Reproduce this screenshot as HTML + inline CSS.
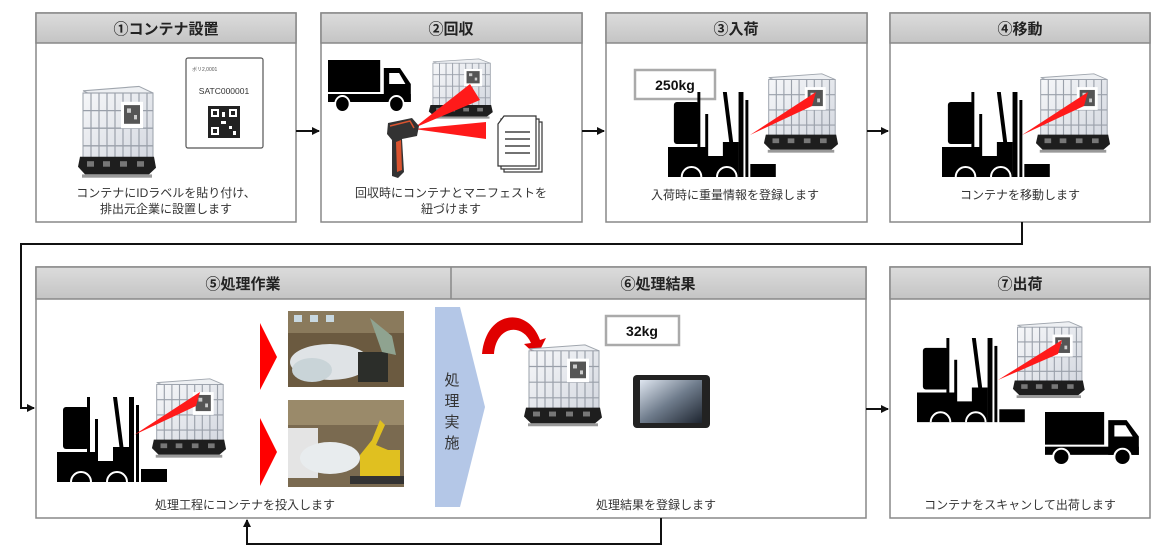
<!DOCTYPE html>
<html><head><meta charset="utf-8">
<style>
html,body{margin:0;padding:0;background:#fff;}
svg{display:block;}
text{font-family:"Liberation Sans","Noto Sans CJK JP",sans-serif;}
.h{font-size:15px;font-weight:bold;fill:#222;text-anchor:middle;}
.t{font-size:12px;fill:#333;text-anchor:middle;}
</style></head><body>
<svg width="1163" height="559" viewBox="0 0 1163 559" xmlns="http://www.w3.org/2000/svg">
<defs>
<linearGradient id="hg" x1="0" y1="0" x2="0" y2="1"><stop offset="0" stop-color="#dcdcdc"/><stop offset="1" stop-color="#c4c4c4"/></linearGradient>
<linearGradient id="cg" x1="0" y1="0" x2="1" y2="1"><stop offset="0" stop-color="#f6f7f9"/><stop offset="1" stop-color="#d4d8e0"/></linearGradient>
<linearGradient id="tg" x1="0" y1="0" x2="1" y2="1"><stop offset="0" stop-color="#dfe6f0"/><stop offset="0.5" stop-color="#6f7c8c"/><stop offset="1" stop-color="#1e2530"/></linearGradient>
<marker id="ar" markerWidth="8" markerHeight="8" refX="7" refY="4" orient="auto" markerUnits="userSpaceOnUse"><path d="M0,0 L8,4 L0,8 z" fill="#111"/></marker>
<g id="ibc">
<polygon points="6,8 62,4 76,10 20,14" fill="#eef0f3" stroke="#a0a6ae"/>
<rect x="6" y="10" width="70" height="60" fill="url(#cg)" stroke="#9aa0aa"/>
<g stroke="#9aa0aa" stroke-width="1.2">
<line x1="14" y1="10" x2="14" y2="70"/><line x1="22" y1="10" x2="22" y2="70"/><line x1="30" y1="10" x2="30" y2="70"/><line x1="38" y1="10" x2="38" y2="70"/><line x1="46" y1="10" x2="46" y2="70"/><line x1="54" y1="10" x2="54" y2="70"/><line x1="62" y1="10" x2="62" y2="70"/><line x1="70" y1="10" x2="70" y2="70"/>
<line x1="6" y1="26" x2="76" y2="26"/><line x1="6" y1="42" x2="76" y2="42"/><line x1="6" y1="58" x2="76" y2="58"/>
</g>
<rect x="44" y="18" width="22" height="24" fill="#fff"/>
<rect x="47" y="21" width="16" height="17" fill="#555"/>
<rect x="50" y="24" width="4" height="4" fill="#ccc"/><rect x="57" y="30" width="3" height="4" fill="#ccc"/>
<polygon points="3,68 77,68 79,78 72,84 8,84 1,77" fill="#1e1e1e"/>
<rect x="10" y="72" width="7" height="5" fill="#777"/><rect x="26" y="72" width="7" height="5" fill="#777"/><rect x="43" y="72" width="7" height="5" fill="#777"/><rect x="60" y="72" width="7" height="5" fill="#777"/>
<rect x="5" y="84" width="70" height="3" fill="#999"/>
</g>
<g id="fork">
<rect x="6" y="10" width="26" height="42" rx="3" fill="#000"/>
<rect x="30" y="0" width="3" height="62" fill="#000"/>
<rect x="38" y="22" width="3" height="50" fill="#000"/>
<polygon points="56,0 60,0 68,62 64,62" fill="#000"/>
<rect x="72" y="0" width="5" height="85" fill="#000"/>
<rect x="79" y="8" width="3" height="77" fill="#000"/>
<path d="M0,55 H40 V64 H56 V50 H72 V85 H0 z" fill="#000"/>
<path d="M14,85 A10,10 0 0 1 34,85" fill="none" stroke="#fff" stroke-width="2"/>
<path d="M50,85 A10,10 0 0 1 70,85" fill="none" stroke="#fff" stroke-width="2"/>
<rect x="84" y="72" width="26" height="13" fill="#000"/>
</g>
<g id="truck">
<rect x="0" y="0" width="58" height="32" fill="#000"/>
<path d="M62,8 H80 L92,24 V42 H62 z" fill="#000"/>
<path d="M68,13 H79 L86,24 H68 z" fill="#fff"/>
<rect x="0" y="34" width="92" height="8" fill="#000"/>
<circle cx="16" cy="44" r="8" fill="#000" stroke="#fff" stroke-width="2"/>
<circle cx="76" cy="44" r="8" fill="#000" stroke="#fff" stroke-width="2"/>
</g>
</defs>

<g stroke="#888" stroke-width="1.5">
<rect x="36" y="13" width="260" height="209" fill="#fff"/><rect x="36" y="13" width="260" height="30" fill="url(#hg)"/>
<rect x="321" y="13" width="261" height="209" fill="#fff"/><rect x="321" y="13" width="261" height="30" fill="url(#hg)"/>
<rect x="606" y="13" width="261" height="209" fill="#fff"/><rect x="606" y="13" width="261" height="30" fill="url(#hg)"/>
<rect x="890" y="13" width="260" height="209" fill="#fff"/><rect x="890" y="13" width="260" height="30" fill="url(#hg)"/>
<rect x="36" y="267" width="830" height="251" fill="#fff"/><rect x="36" y="267" width="830" height="32" fill="url(#hg)"/>
<line x1="451" y1="267" x2="451" y2="299"/>
<rect x="890" y="267" width="260" height="251" fill="#fff"/><rect x="890" y="267" width="260" height="32" fill="url(#hg)"/>
</g>
<text class="h" x="166" y="34">①コンテナ設置</text>
<text class="h" x="451" y="34">②回収</text>
<text class="h" x="736" y="34">③入荷</text>
<text class="h" x="1020" y="34">④移動</text>
<text class="h" x="243" y="289">⑤処理作業</text>
<text class="h" x="658" y="289">⑥処理結果</text>
<text class="h" x="1020" y="289">⑦出荷</text>

<g stroke="#111" stroke-width="2" fill="none">
<line x1="296" y1="131" x2="319" y2="131" marker-end="url(#ar)"/>
<line x1="582" y1="131" x2="604" y2="131" marker-end="url(#ar)"/>
<line x1="867" y1="131" x2="888" y2="131" marker-end="url(#ar)"/>
<polyline points="1022,222 1022,244 21,244 21,408 34,408" marker-end="url(#ar)"/>
<line x1="866" y1="409" x2="888" y2="409" marker-end="url(#ar)"/>
<polyline points="661,518 661,544 247,544 247,520" marker-end="url(#ar)"/>
</g>

<use href="#ibc" transform="translate(77,82) scale(1.0,1.1)"/>
<rect x="186" y="58" width="77" height="90" fill="#fff" stroke="#555" stroke-width="1.2" rx="2"/>
<text x="192" y="71" font-size="5" fill="#555">ボリ2,0001</text>
<text x="224" y="94" font-size="8.5" fill="#333" text-anchor="middle">SATC000001</text>
<rect x="208" y="106" width="32" height="32" fill="#222"/>
<g fill="#fff"><rect x="211" y="109" width="8" height="8"/><rect x="229" y="109" width="8" height="8"/><rect x="211" y="127" width="8" height="8"/><rect x="222" y="112" width="3" height="5"/><rect x="221" y="121" width="5" height="3"/><rect x="229" y="126" width="3" height="3"/><rect x="233" y="131" width="3" height="4"/></g>
<g fill="#222"><rect x="213" y="111" width="4" height="4"/><rect x="231" y="111" width="4" height="4"/><rect x="213" y="129" width="4" height="4"/></g>
<text class="t" x="166" y="197">コンテナにIDラベルを貼り付け、</text>
<text class="t" x="166" y="213">排出元企業に設置します</text>

<use href="#truck" transform="translate(328,60) scale(0.9,1.0)"/>
<use href="#ibc" transform="translate(428,56) scale(0.82,0.72)"/>
<polygon points="414,128 470,84 480,100" fill="#ff1a1a"/>
<polygon points="414,129 486,122 486,139" fill="#ff1a1a"/>
<path d="M388,123 L412,118 L419,126 L417,136 L402,139 L404,172 L398,178 L392,176 L392,140 L387,134 z" fill="#333"/>
<path d="M396,142 L401,140 L402,170 L397,172 z" fill="#d9532f"/>
<path d="M390,126 L410,121 L414,128" fill="none" stroke="#d9532f" stroke-width="1.5"/>
<rect x="504" y="122" width="38" height="50" fill="#fff" stroke="#333" stroke-width="1.2"/>
<rect x="501" y="119" width="38" height="50" fill="#fff" stroke="#333" stroke-width="1.2"/>
<path d="M498,124 L504,116 H536 V166 H498 z" fill="#fff" stroke="#333" stroke-width="1.2"/>
<g stroke="#444" stroke-width="1.5"><line x1="505" y1="132" x2="530" y2="132"/><line x1="505" y1="139" x2="530" y2="139"/><line x1="505" y1="146" x2="530" y2="146"/><line x1="505" y1="153" x2="530" y2="153"/></g>
<text class="t" x="451" y="197">回収時にコンテナとマニフェストを</text>
<text class="t" x="451" y="213">紐づけます</text>

<rect x="635" y="70" width="80" height="29" fill="#fff" stroke="#aaa" stroke-width="2.5"/>
<text x="675" y="90" font-size="14" font-weight="bold" text-anchor="middle" fill="#111">250kg</text>
<use href="#fork" transform="translate(668,92) scale(0.98,1.0)"/>
<use href="#ibc" transform="translate(763,70) scale(0.95,0.95)"/>
<polygon points="750,135 812,106 816,92" fill="#ff1a1a"/>
<text class="t" x="735" y="199">入荷時に重量情報を登録します</text>

<use href="#fork" transform="translate(942,92) scale(0.98,1.0)"/>
<use href="#ibc" transform="translate(1035,70) scale(0.95,0.95)"/>
<polygon points="1022,135 1084,106 1088,92" fill="#ff1a1a"/>
<text class="t" x="1020" y="199">コンテナを移動します</text>

<use href="#fork" transform="translate(57,397)"/>
<use href="#ibc" transform="translate(151,375) scale(0.95,0.95)"/>
<polygon points="134,435 196,406 200,392" fill="#ff1a1a"/>
<polygon points="260,323 277,357 260,390" fill="#ff0000"/>
<polygon points="260,418 277,452 260,486" fill="#ff0000"/>
<rect x="288" y="311" width="116" height="76" fill="#6b5a40"/>
<rect x="288" y="311" width="116" height="22" fill="#8a7a5c"/>
<g fill="#c8d8e0"><rect x="294" y="315" width="8" height="7"/><rect x="310" y="315" width="8" height="7"/><rect x="326" y="315" width="8" height="7"/></g>
<ellipse cx="330" cy="362" rx="40" ry="18" fill="#dfe3e6"/>
<ellipse cx="312" cy="370" rx="20" ry="12" fill="#c9d4d8"/>
<rect x="358" y="352" width="30" height="30" fill="#2c2e2a"/>
<path d="M370,318 L392,336 L396,355 L382,352 z" fill="#8fa390"/>
<rect x="288" y="400" width="116" height="87" fill="#7a6a50"/>
<rect x="288" y="400" width="116" height="25" fill="#9a8a6a"/>
<rect x="288" y="428" width="30" height="50" fill="#e4e4e4"/>
<ellipse cx="330" cy="458" rx="30" ry="16" fill="#e8ecee"/>
<path d="M360,478 L360,455 L372,440 L380,420 L385,425 L376,445 L388,450 L400,450 L400,480 z" fill="#e0c020"/>
<rect x="350" y="476" width="54" height="8" fill="#333"/>
<text class="t" x="245" y="509">処理工程にコンテナを投入します</text>

<polygon points="435,307 460,307 485,407 460,507 435,507" fill="#b4c7e7"/>
<text x="452" y="385" font-size="15" text-anchor="middle" fill="#333">処</text>
<text x="452" y="406" font-size="15" text-anchor="middle" fill="#333">理</text>
<text x="452" y="427" font-size="15" text-anchor="middle" fill="#333">実</text>
<text x="452" y="448" font-size="15" text-anchor="middle" fill="#333">施</text>

<path d="M482,354 C486,310 528,306 540,340 L546,338 L537,356 L524,344 L531,343 C522,322 496,326 494,354 z" fill="#e00000"/>
<use href="#ibc" transform="translate(523,341) scale(1.0,0.98)"/>
<rect x="606" y="316" width="73" height="29" fill="#fff" stroke="#aaa" stroke-width="2.5"/>
<text x="642" y="336" font-size="14" font-weight="bold" text-anchor="middle" fill="#111">32kg</text>
<rect x="633" y="375" width="77" height="53" rx="4" fill="#222"/>
<rect x="640" y="380" width="62" height="43" fill="url(#tg)"/>
<text class="t" x="656" y="509">処理結果を登録します</text>

<use href="#fork" transform="translate(917,338) scale(0.98,0.99)"/>
<use href="#ibc" transform="translate(1012,318) scale(0.92,0.92)"/>
<polygon points="998,380 1058,354 1062,340" fill="#ff1a1a"/>
<use href="#truck" transform="translate(1045,412) scale(1.02,1.02)"/>
<text class="t" x="1020" y="509">コンテナをスキャンして出荷します</text>
</svg>
</body></html>
